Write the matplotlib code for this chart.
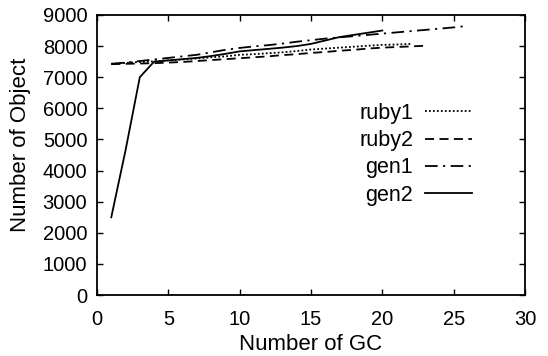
import matplotlib
matplotlib.use("Agg")
import matplotlib.pyplot as plt

plt.rcParams['font.family'] = ['Liberation Sans', 'DejaVu Sans']

x_ruby1 = list(range(1, 23))
ruby1 = [7430, 7460, 7490, 7510, 7540, 7570, 7600, 7640, 7670, 7720, 7740,
         7770, 7800, 7840, 7890, 7920, 7950, 7980, 8010, 8040, 8050, 8070]
x_ruby2 = list(range(1, 24))
ruby2 = [7420, 7430, 7440, 7450, 7470, 7490, 7520, 7550, 7580, 7610, 7640,
         7670, 7710, 7740, 7780, 7810, 7850, 7880, 7920, 7950, 7970, 7990, 8010]
x_gen1 = list(range(1, 27))
gen1 = [7430, 7470, 7520, 7570, 7620, 7670, 7720, 7800, 7880, 7940, 7990,
        8030, 8080, 8140, 8190, 8240, 8280, 8320, 8360, 8400, 8440, 8480,
        8520, 8560, 8600, 8650]
x_gen2 = list(range(1, 21))
gen2 = [2500, 4650, 7000, 7500, 7540, 7580, 7620, 7680, 7750, 7830, 7870,
        7910, 7950, 8000, 8070, 8180, 8290, 8360, 8430, 8500]

xticks = [0, 5, 10, 15, 20, 25, 30]
yticks = [0, 1000, 2000, 3000, 4000, 5000, 6000, 7000, 8000, 9000]

fig = plt.figure(figsize=(5.48, 3.56), dpi=100)
ax = fig.add_axes([0.177, 0.171, 0.781, 0.787])

lw = 1.3
ax.plot(x_ruby1, ruby1, color='black', lw=lw, linestyle=(0, (1, 1.2)), label='ruby1')
ax.plot(x_ruby2, ruby2, color='black', lw=lw, linestyle=(0, (5, 3)), label='ruby2')
ax.plot(x_gen1, gen1, color='black', lw=lw, linestyle=(0, (7, 3, 1.2, 3)), label='gen1')
ax.plot(x_gen2, gen2, color='black', lw=lw, linestyle='-', label='gen2')

ax.set_xlim(0, 30)
ax.set_ylim(0, 9000)
ax.set_xticks(xticks)
ax.set_yticks(yticks)
ax.tick_params(direction='in', length=4, width=1, top=True, right=True,
               labelsize=14.5)
ax.tick_params(axis='x', pad=11)
ax.tick_params(axis='y', pad=7)
for s in ax.spines.values():
    s.set_linewidth(1.3)
ax.set_xlabel('Number of GC', fontsize=16, va='top')
ax.set_ylabel('Number of Object', fontsize=16)
ax.xaxis.set_label_coords(0.5, -0.14)
ax.yaxis.set_label_coords(-0.154, 0.536)

leg = ax.legend(loc='upper right', bbox_to_anchor=(0.897, 0.717), frameon=False,
                markerfirst=False, fontsize=15.5, handlelength=2.2,
                handletextpad=0.55, labelspacing=0.29, borderaxespad=0)

fig.savefig('out.png', dpi=100)
